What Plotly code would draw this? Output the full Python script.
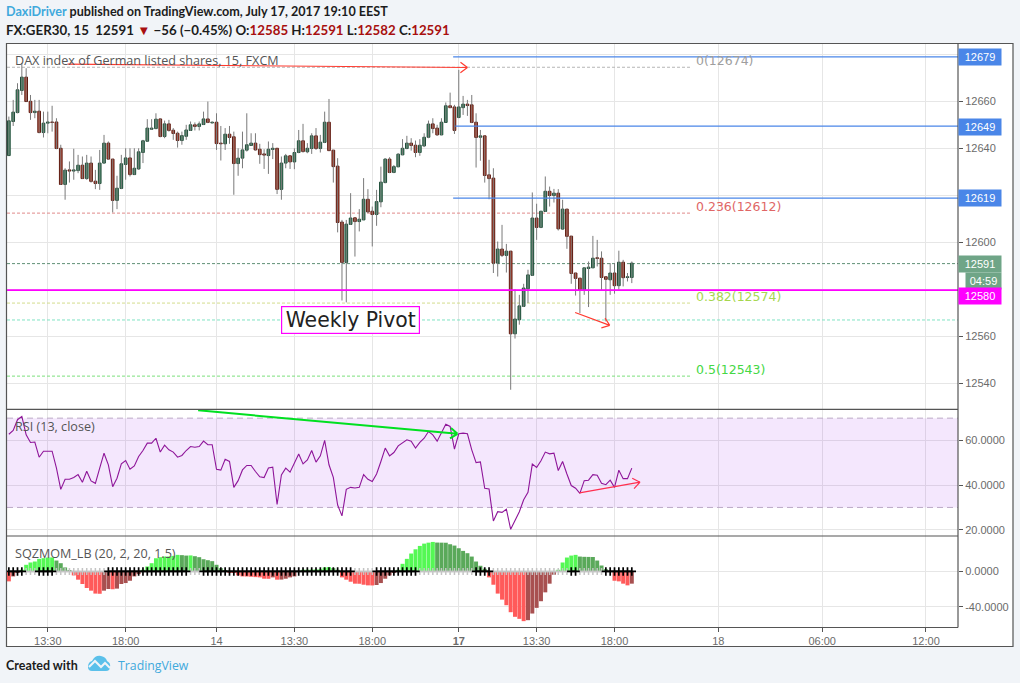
import plotly.graph_objects as go
from plotly.subplots import make_subplots

# 15 minute candles, FX:GER30
opens=[12637.0,12651.5,12655.3,12664.7,12670.4,12660.1,12655.3,12655.9,12646.8,12650.8,12651.3,12651.3,12640.1,12624.7,12630.9,12630.4,12630.6,12632.9,12627.2,12633.8,12626.1,12625.1,12633.8,12642.3,12635.5,12617.9,12623.0,12633.2,12636.0,12628.9,12631.3,12638.3,12643.1,12648.2,12648.5,12652.6,12645.1,12650.5,12647.8,12646.5,12643.4,12645.2,12647.7,12650.1,12649.4,12650.2,12652.6,12650.9,12651.2,12642.3,12642.0,12646.1,12645.0,12633.6,12635.9,12639.3,12641.3,12642.3,12639.7,12637.7,12637.0,12639.6,12640.1,12622.6,12633.8,12636.9,12634.3,12638.3,12643.3,12638.6,12640.0,12645.4,12640.0,12642.6,12651.2,12639.3,12632.5,12608.7,12591.5,12607.7,12610.5,12608.9,12609.6,12618.4,12613.3,12611.9,12617.3,12625.5,12635.5,12629.8,12632.2,12637.3,12640.0,12642.3,12641.4,12638.3,12641.1,12644.8,12650.5,12648.7,12645.8,12651.1,12658.2,12657.7,12653.2,12657.4,12658.9,12658.6,12651.2,12644.8,12645.4,12628.8,12627.4,12591.2,12597.2,12594.5,12596.3,12561.1,12567.1,12572.8,12580.3,12586.0,12610.4,12606.4,12613.2,12621.8,12620.0,12621.0,12605.7,12614.2,12602.7,12587.0,12584.8,12579.9,12588.9,12589.2,12593.5,12593.3,12585.4,12584.1,12587.0,12581.6,12591.6,12585.1,12585.1]
highs=[12653.6,12660.7,12667.8,12676.3,12674.2,12662.8,12660.7,12660.7,12655.7,12655.7,12658.2,12652.9,12641.6,12631.6,12634.5,12639.9,12637.3,12636.6,12637.3,12636.6,12630.9,12639.4,12645.8,12643.0,12635.5,12628.4,12637.3,12640.1,12640.1,12640.1,12640.1,12643.7,12652.5,12652.5,12655.0,12652.9,12651.9,12652.2,12648.7,12647.2,12647.2,12650.1,12651.5,12651.1,12651.5,12655.7,12660.0,12651.5,12655.0,12649.6,12648.7,12649.6,12647.2,12640.1,12647.2,12655.0,12646.5,12646.5,12642.0,12639.7,12643.0,12642.3,12640.1,12636.6,12637.7,12636.9,12640.1,12647.9,12650.5,12642.3,12646.5,12648.7,12645.8,12655.7,12661.1,12639.4,12635.9,12609.6,12609.6,12621.0,12610.5,12614.2,12627.4,12622.7,12615.3,12622.4,12632.3,12635.9,12636.3,12633.0,12638.0,12644.0,12645.4,12644.4,12643.4,12644.0,12646.5,12651.9,12652.9,12650.1,12652.9,12659.6,12663.8,12658.6,12673.5,12662.4,12660.7,12662.8,12655.0,12647.9,12645.4,12635.2,12631.6,12600.4,12607.5,12599.4,12596.3,12580.1,12577.7,12582.4,12588.4,12621.3,12616.5,12613.3,12628.1,12623.8,12622.8,12622.7,12618.2,12614.2,12602.7,12587.0,12584.8,12589.5,12591.9,12602.8,12601.1,12596.2,12585.5,12591.2,12591.2,12596.5,12592.6,12587.0,12591.9]
lows=[12637.0,12649.6,12655.0,12662.8,12660.0,12652.2,12652.9,12646.5,12644.7,12646.5,12647.2,12639.7,12624.5,12618.2,12625.5,12626.7,12629.5,12627.1,12626.7,12625.5,12622.7,12622.4,12633.8,12635.2,12612.8,12614.2,12622.7,12626.7,12628.1,12628.8,12630.9,12633.8,12643.0,12647.9,12648.2,12644.8,12644.4,12647.2,12643.7,12640.4,12641.6,12643.7,12647.5,12647.7,12647.7,12650.1,12650.8,12650.7,12639.4,12634.9,12639.4,12642.0,12620.3,12628.4,12631.6,12638.7,12641.2,12639.1,12633.5,12631.3,12629.2,12635.5,12620.6,12618.2,12631.6,12631.3,12631.2,12638.0,12638.3,12638.0,12637.7,12639.4,12638.3,12642.3,12639.1,12625.5,12604.3,12575.3,12574.5,12607.5,12594.0,12604.7,12609.6,12612.5,12598.3,12607.1,12615.0,12625.2,12629.5,12629.5,12632.1,12637.2,12639.7,12639.1,12636.3,12636.9,12640.6,12644.4,12646.5,12645.4,12645.7,12651.1,12657.2,12646.2,12652.9,12654.3,12653.9,12650.8,12631.9,12634.8,12625.5,12618.4,12587.0,12585.5,12593.8,12587.2,12537.3,12559.1,12565.0,12572.5,12574.2,12585.8,12601.1,12606.1,12613.0,12615.3,12617.0,12605.1,12605.4,12597.3,12582.4,12577.4,12569.9,12577.7,12572.5,12589.1,12589.8,12579.6,12566.4,12577.7,12578.2,12579.9,12581.3,12583.4,12582.7]
closes=[12651.8,12655.5,12665.0,12670.4,12660.0,12655.3,12655.9,12646.8,12650.8,12651.3,12651.1,12640.0,12624.7,12630.8,12630.4,12630.9,12632.9,12627.2,12633.8,12626.0,12625.1,12633.8,12642.3,12635.5,12617.9,12623.1,12633.5,12636.0,12628.9,12631.6,12638.6,12643.3,12648.7,12648.7,12652.5,12645.1,12650.5,12647.7,12646.4,12643.4,12645.5,12647.9,12650.1,12649.4,12650.5,12652.6,12651.1,12651.2,12642.1,12642.0,12646.1,12644.7,12633.6,12635.9,12639.4,12641.6,12642.3,12639.4,12637.4,12637.2,12639.7,12640.1,12622.6,12633.8,12636.9,12634.3,12638.3,12643.3,12638.7,12640.1,12645.4,12640.0,12642.7,12651.2,12639.1,12632.3,12608.5,12591.5,12607.8,12610.4,12608.9,12609.9,12618.4,12613.0,12611.9,12617.4,12625.7,12635.5,12629.8,12632.3,12637.6,12640.1,12642.3,12641.3,12638.3,12641.4,12644.8,12650.4,12648.5,12645.8,12651.2,12658.2,12657.4,12647.7,12657.7,12658.9,12658.3,12651.1,12644.7,12645.4,12628.5,12627.2,12591.2,12597.2,12594.5,12596.3,12561.1,12567.4,12573.0,12580.6,12586.2,12610.4,12606.4,12613.3,12621.8,12620.0,12621.0,12605.8,12614.2,12602.6,12586.8,12584.7,12579.9,12589.2,12589.5,12593.3,12593.2,12585.1,12584.3,12587.0,12581.6,12591.6,12585.0,12585.4,12591.2]
rsi=[62.8,64.5,69.3,70.8,62.5,59.1,59.3,52.5,55.2,55.2,55.2,47.6,38.1,42.6,42.6,43.4,44.7,41.3,46.2,41.9,40.8,47.6,54.3,49.1,39.3,43.1,49.5,51.0,47.1,48.6,52.8,55.5,58.8,58.8,61.0,54.8,57.9,55.8,54.8,52.5,53.3,55.5,57.3,57.0,57.3,59.7,58.1,58.1,47.1,46.7,51.6,50.6,39.0,42.0,46.8,48.8,48.8,46.1,43.7,43.4,47.7,48.0,31.3,44.6,47.6,45.8,49.8,53.9,49.5,51.3,55.5,50.3,53.1,60.0,49.1,43.5,31.1,26.2,38.1,39.0,38.7,39.0,44.7,42.6,41.6,45.0,50.6,56.6,53.1,54.6,57.6,59.1,60.3,59.7,56.6,59.1,61.0,64.0,62.5,59.7,63.3,67.3,66.3,56.1,63.0,63.3,63.0,55.8,50.1,50.4,38.6,38.3,23.9,28.1,27.8,29.2,20.2,24.1,28.1,33.4,36.8,49.4,47.9,50.9,54.8,54.0,54.3,46.5,50.6,45.0,39.8,38.6,36.3,42.0,42.2,44.7,44.4,40.8,40.2,42.2,39.0,46.7,42.9,42.9,47.6]
momentum=[-11.2,-5.6,-0.8,1.9,7.5,10.1,11.2,14.2,15.0,15.7,15.8,12.3,9.3,4.5,1.1,-4.5,-9.3,-14.2,-18.7,-21.7,-25.0,-25.2,-21.7,-19.8,-20.1,-19.4,-14.2,-13.1,-10.5,-5.6,-3.0,1.9,5.6,9.3,14.9,16.1,16.8,16.9,17.6,18.7,18.4,17.9,18.1,17.2,16.1,13.8,12.7,11.6,7.5,3.7,1.1,-1.1,-1.2,-4.5,-5.6,-5.7,-6.0,-6.4,-6.7,-8.2,-8.3,-6.7,-9.3,-9.2,-8.2,-6.7,-5.6,0.0,1.9,2.0,2.1,2.2,2.5,4.5,4.9,3.7,1.9,-6.7,-9.3,-11.6,-13.8,-13.9,-15.0,-15.7,-15.8,-15.3,-13.1,-8.2,-4.5,-1.0,1.9,8.6,14.2,20.2,25.0,28.8,31.4,32.5,33.3,32.6,32.5,32.4,30.7,29.2,26.2,23.2,20.6,16.8,11.2,6.4,3.0,-6.7,-15.0,-25.0,-31.8,-38.1,-46.0,-51.2,-53.5,-56.1,-55.0,-47.5,-41.1,-33.6,-23.6,-13.8,-3.7,1.9,10.1,15.7,17.9,18.7,16.8,16.5,16.4,16.3,12.3,6.7,2.6,-0.5,-10.5,-11.2,-13.8,-15.7,-13.8]
squeeze_on=[(0,3),(7,10),(23,41),(45,79),(85,94),(108,111),(130,131),(138,144)]

x_tick_pos=[9,27,48,66,84,104,122,140,164,188,212]
x_tick_text=['13:30','18:00','14','13:30','18:00','<b>17</b>','13:30','18:00','18','06:00','12:00']
price_ticks=[12540,12560,12580,12600,12620,12640,12660,12680]
price_labels=['12540','12560','','12600','','12640','12660','']
rsi_ticks=[20,40,60]
rsi_labels=['20.0000','40.0000','60.0000']
mom_ticks=[-40,0]
mom_labels=['-40.0000','0.0000']

blue_rays=[(102.7,12679),(103.2,12649.5),(102.7,12618.9)]
fib_levels=[(12674.6,'0(12674)','#b5b5b5','#9e9e9e'),(12612.5,'0.236(12612)','#e08a8a','#e06666'),(12574.2,'0.382(12574)','#d3dc8c','#a6d64f'),(12543.1,'0.5(12543)','#7be07b','#45d845')]

L,R,T,B=7,958,44,627
W,H=R-L,B-T
def px(x): return (x-L)/W
def py(y): return (B-y)/H

fig=make_subplots(rows=3,cols=1,shared_xaxes=True,vertical_spacing=0,row_heights=[365,127,91])
idx=list(range(len(opens)))

wick_x,wick_y=[],[]
for i in idx:
    wick_x+=[i,i,None]
    wick_y+=[lows[i],highs[i],None]
fig.add_trace(go.Scatter(x=wick_x,y=wick_y,mode='lines',line=dict(color='#7a7a7a',width=1)),row=1,col=1)

up=[c>=o for o,c in zip(opens,closes)]
fig.add_trace(go.Bar(x=idx,base=[min(o,c) for o,c in zip(opens,closes)],y=[abs(o-c) for o,c in zip(opens,closes)],width=0.62,
    marker=dict(color=['#3f8a64' if u else '#c23b22' for u in up],line=dict(color=['#1f4d38' if u else '#5c1a10' for u in up],width=1))),row=1,col=1)

fig.add_trace(go.Scatter(x=idx,y=rsi,mode='lines',line=dict(color='#8e1599',width=1.1)),row=2,col=1)

def mom_color(i):
    prev=momentum[i-1] if i>0 else 0
    if momentum[i]>0:
        return '#55f855' if momentum[i]>prev else '#5aa95a'
    return '#ff5a5a' if momentum[i]<prev else '#a85050'
fig.add_trace(go.Bar(x=idx,y=momentum,width=0.92,marker=dict(color=[mom_color(i) for i in idx],line=dict(width=0))),row=3,col=1)

on=[i for i in idx if any(a<=i<=b for a,b in squeeze_on)]
off=[i for i in idx if i not in on]
fig.add_trace(go.Scatter(x=off,y=[0]*len(off),mode='markers',marker=dict(symbol='cross-thin',size=5,line=dict(color='#c4c4c4',width=1.5))),row=3,col=1)
fig.add_trace(go.Scatter(x=on,y=[0]*len(on),mode='markers',marker=dict(symbol='cross-thin',size=6,line=dict(color='#000000',width=1.7))),row=3,col=1)

x_max=219.4
shapes=[]
def hline(x0,x1,y,color,width=1,dash='solid',xref='x',yref='y',layer='between'):
    shapes.append(dict(type='line',x0=x0,x1=x1,y0=y,y1=y,xref=xref,yref=yref,layer=layer,line=dict(color=color,width=width,dash=dash)))

for lvl,_,c,_t in fib_levels:
    hline(-0.43,157.5,lvl,c,dash='3px,2px')
hline(-0.43,x_max,12567,'#7fe3c4',dash='3px,2px')
hline(-0.43,x_max,12591,'#5f8f75',dash='3px,2px')
for x0,lvl in blue_rays:
    hline(x0,x_max,lvl,'#4a86e8',width=1.2,layer='above')
hline(-0.43,x_max,12579.7,'#ff00ff',width=1.6,layer='above')

# rsi band
shapes.append(dict(type='rect',x0=-0.43,x1=x_max,y0=30,y1=70,xref='x2',yref='y2',layer='between',fillcolor='rgba(155,40,240,0.11)',line=dict(width=0)))
hline(-0.43,x_max,70,'#bba9c6',dash='6px,4px',xref='x2',yref='y2')
hline(-0.43,x_max,30,'#bba9c6',dash='6px,4px',xref='x2',yref='y2')

# drawn arrows with open heads, scale is px per unit
def arrow(x0,y0,x1,y1,color,width,xref,yref,ypx):
    xpx=4.328
    dx,dy=(x1-x0)*xpx,(y1-y0)*ypx
    n=(dx*dx+dy*dy)**0.5
    ux,uy=dx/n,dy/n
    size=7
    path='M%f,%f L%f,%f'%(x0,y0,x1,y1)
    for sgn in (1,-1):
        hx=x1+(-ux*size-sgn*uy*size*0.75)/xpx
        hy=y1+(-uy*size+sgn*ux*size*0.75)/ypx
        path+=' M%f,%f L%f,%f'%(hx,hy,x1,y1)
    shapes.append(dict(type='path',path=path,xref=xref,yref=yref,layer='above',line=dict(color=color,width=width)))
arrow(13.55,12675.9,106,12674.5,'#ff3b30',1.2,'x','y',2.35)
arrow(130.9,12570.2,138.9,12564.7,'#ff3b30',1.2,'x','y',2.35)
arrow(43.75,73.5,103.7,63,'#00e020',2,'x2','y2',2.225)
arrow(131.9,36.5,145.9,41.3,'#ff2f4f',1.2,'x2','y2',2.225)

# outer frame and pane dividers
FRAME='#555555'
shapes.append(dict(type='rect',xref='paper',yref='paper',x0=px(958),x1=px(1013),y0=py(44),y1=py(646.5),fillcolor='#ffffff',line=dict(width=0),layer='below'))
shapes.append(dict(type='rect',xref='paper',yref='paper',x0=px(6.5),x1=px(1013),y0=py(627),y1=py(646.5),fillcolor='#ffffff',line=dict(width=0),layer='below'))
shapes.append(dict(type='rect',xref='paper',yref='paper',x0=px(6.5),x1=px(1013),y0=py(646.5),y1=py(43.5),line=dict(color=FRAME,width=1.2),layer='above'))
for y in (409.3,536,627.5):
    shapes.append(dict(type='line',xref='paper',yref='paper',x0=px(6.5),x1=px(958),y0=py(y),y1=py(y),line=dict(color=FRAME,width=1.2),layer='above'))
shapes.append(dict(type='line',xref='paper',yref='paper',x0=px(958),x1=px(958),y0=py(43.5),y1=py(627.5),line=dict(color=FRAME,width=1.2),layer='above'))

# tradingview logo
cloud='M%f,%f Q%f,%f %f,%f Q%f,%f %f,%f Q%f,%f %f,%f Q%f,%f %f,%f Q%f,%f %f,%f L%f,%f Q%f,%f %f,%f Z'%(
    px(88),py(667),px(88),py(662),px(92),py(661),px(95),py(655),px(101),py(656),px(106),py(657),px(107),py(661),
    px(111),py(663),px(110),py(667),px(110),py(671),px(106),py(671),px(92),py(671),px(88),py(671),px(88),py(667))
shapes.append(dict(type='path',path=cloud,xref='paper',yref='paper',fillcolor='#5bc0ea',line=dict(width=0),layer='above'))
zig='M%f,%f L%f,%f L%f,%f L%f,%f L%f,%f'%(px(89),py(667),px(95),py(661),px(101),py(667),px(105),py(663),px(110),py(668))
shapes.append(dict(type='path',path=zig,xref='paper',yref='paper',line=dict(color='#f1f4f8',width=2),layer='above'))

annos=[]
def text(x,y,s,size=13,color='#555555',family='Open Sans',anchor='left',weight=None):
    annos.append(dict(xref='paper',yref='paper',x=px(x),y=py(y),text=s,showarrow=False,xanchor=anchor,yanchor='middle',
        font=dict(size=size,color=color,family=family,weight=weight),borderpad=0,borderwidth=0))

HDR='#1c1c1c'
DR='#a80f0f'
text(6,11,"<span style='color:#3fa9dc'>DaxiDriver</span> published on TradingView.com, July 17, 2017 19:10 EEST",12.6,HDR,family='Lato',weight=700)
text(6,30,"FX:GER30, 15  12591 <span style='color:%s'>▼</span> −56 (−0.45%%) O:<span style='color:%s'>12585</span> H:<span style='color:%s'>12591</span> L:<span style='color:%s'>12582</span> C:<span style='color:%s'>12591</span>"%(DR,DR,DR,DR,DR),13.3,HDR,family='Lato',weight=700)
text(15,60,'DAX index of German listed shares, 15, FXCM',12.6)
text(15,426,'RSI (13, close)',12.6)
text(15,553,'SQZMOM_LB (20, 2, 20, 1.5)',12.6)
text(6,665,'Created with',12.5,HDR,family='Lato',weight=700)
text(118,665,'TradingView',12.3,'#3fa9dc')

for lvl,s,_,c in fib_levels:
    annos.append(dict(xref='x',yref='y',x=158.3,y=lvl,yshift=7,text=s,showarrow=False,xanchor='left',yanchor='middle',font=dict(size=12.5,color=c,family='DejaVu Sans')))

annos.append(dict(xref='paper',yref='paper',x=px(350),y=py(320),text='Weekly Pivot',showarrow=False,xanchor='center',yanchor='middle',
    font=dict(size=20.4,color='#222222',family='DejaVu Sans'),bgcolor='#ffffff',bordercolor='#ff00ff',borderwidth=1.2,width=135,height=24,borderpad=1))

# price labels on the scale
def price_box(lvl,s,color,shift=0,left=0,width=42):
    annos.append(dict(xref='paper',yref='y',x=1,xshift=left,y=lvl,yshift=shift,text=s,showarrow=False,xanchor='left',yanchor='middle',align='center',
        width=width,height=16,borderpad=0,bgcolor=color,font=dict(size=11,color='#ffffff',family='Liberation Sans')))
price_box(12679,'12679','#4a86e8')
price_box(12649,'12649','#4a86e8')
price_box(12619,'12619','#4a86e8')
price_box(12591,'12591','#6fa587')
price_box(12591,'04:59','#6fa587',shift=-17,left=7,width=35)
price_box(12580,'12580','#ff00ff',shift=-7)

fig.update_layout(width=1020,height=683,margin=dict(l=L,r=1020-R,t=T,b=683-B,pad=0),
    paper_bgcolor='#f1f4f8',plot_bgcolor='#ffffff',showlegend=False,barmode='overlay',
    shapes=shapes,annotations=annos,font=dict(family='Liberation Sans',size=11,color='#6b6b6b'))
fig.update_xaxes(range=[-0.43,x_max],tickmode='array',tickvals=x_tick_pos,ticktext=x_tick_text,showgrid=True,gridcolor='#e6e6e6',gridwidth=1,
    zeroline=False,showline=False,rangeslider_visible=False)
fig.update_xaxes(ticks='outside',ticklen=4,tickcolor=FRAME,row=3,col=1)
fig.update_yaxes(side='right',showgrid=True,gridcolor='#e6e6e6',gridwidth=1,zeroline=False,showline=False,ticks='outside',ticklen=4,tickcolor=FRAME,tickmode='array')
fig.update_yaxes(range=[12529.1,12684.5],tickvals=price_ticks,ticktext=price_labels,row=1,col=1)
fig.update_yaxes(range=[17.2,74.1],tickvals=rsi_ticks,ticktext=rsi_labels,row=2,col=1)
fig.update_yaxes(range=[-62.7,40],tickvals=mom_ticks,ticktext=mom_labels,row=3,col=1)

# the page's default body margin would push the chart 8px in
fig.write_html("out.html",config={'displayModeBar':False},post_script="document.body.style.margin='0';document.documentElement.style.overflow='hidden';")
